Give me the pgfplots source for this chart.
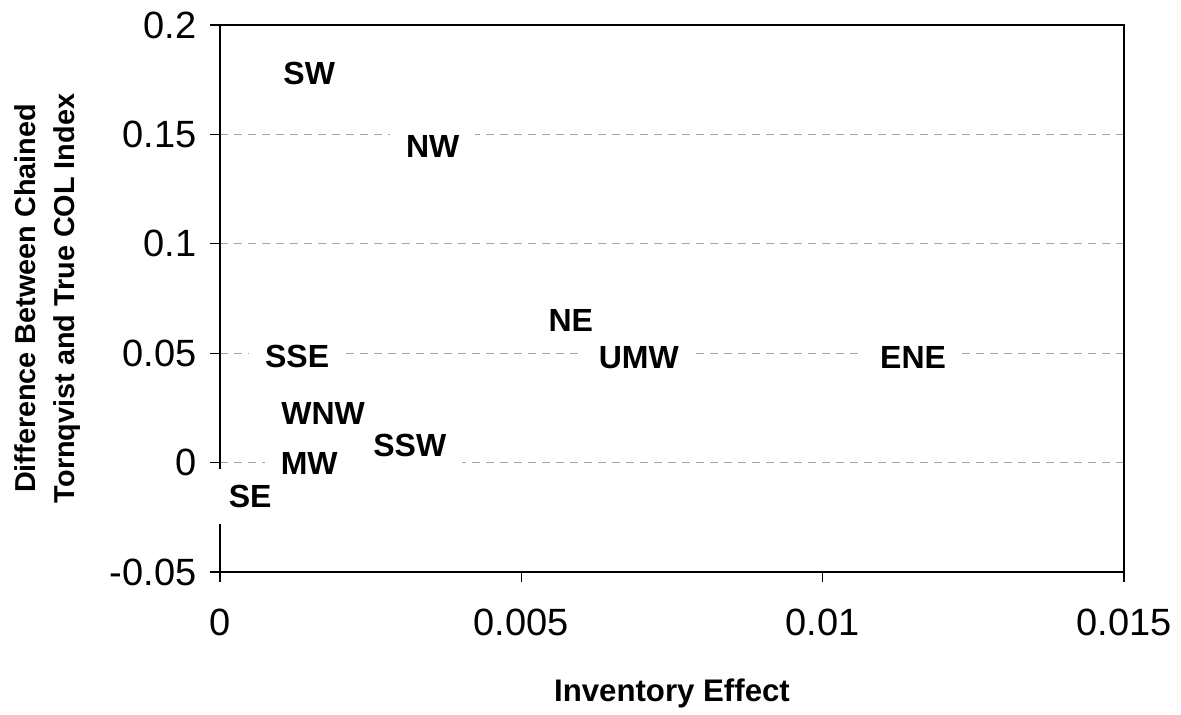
\documentclass[border=0pt]{standalone}
\usepackage{pgfplots}
\pgfplotsset{compat=1.18}
\usepackage{fontspec}
\setmainfont{Liberation Sans}
\pgfplotstableread{
x y lab
0.00148 0.178 SW
0.00353 0.1444 NW
0.00582 0.0649 NE
0.00695 0.048 UMW
0.0115 0.048 ENE
0.00128 0.0484 SSE
0.00171 0.0224 WNW
0.00315 0.0078 SSW
0.00148 -0.0005 MW
0.00050 -0.0155 SE
}\regions
\begin{document}
\begin{tikzpicture}
\begin{axis}[
  scale only axis,
  width=452pt, height=273.5pt,
  xmin=0, xmax=0.015, ymin=-0.05, ymax=0.2,
  scaled x ticks=false, scaled y ticks=false,
  xtick={0,0.005,0.01,0.015},
  xticklabels={0,0.005,0.01,0.015},
  ytick={-0.05,0,0.05,0.1,0.15,0.2},
  yticklabels={-0.05,0,0.05,0.1,0.15,0.2},
  /pgf/number format/assume math mode=true,
  tick align=outside, tick pos=left,
  major tick length=5pt,
  tick style={black, line width=0.6pt},
  axis line style={black, line width=0.6pt},
  axis on top=false,
  ymajorgrids,
  major grid style={black!35, dash pattern=on 4pt off 3pt, line width=0.5pt},
  ticklabel style={font=\fontsize{19}{22}\selectfont, inner sep=0pt},
  xticklabel style={anchor=center, yshift=-20pt},
  yticklabel style={anchor=east, xshift=-6.5pt},
  xlabel={\textbf{Inventory Effect}},
  ylabel={\textbf{Difference Between Chained}\\\textbf{Tornqvist and True COL Index}},
  xlabel style={font=\fontsize{15.6}{18}\selectfont, at={(axis description cs:0.5,0)}, anchor=center, yshift=-60.5pt},
  ylabel style={font=\fontsize{14.4}{19.5}\selectfont, align=center, at={(axis description cs:-0.1903,0.5)}, anchor=center},
  clip=false,
]
% white label boxes (covering grid and axis lines)
\addplot[only marks, mark=none, point meta=explicit symbolic,
  nodes near coords, nodes near coords align={center},
  every node near coord/.style={font=\fontsize{16}{18}\selectfont\bfseries, fill=white, text opacity=0, inner xsep=8pt, inner ysep=8pt, anchor=center}]
table[meta=lab] {\regions};
% label texts
\addplot[only marks, mark=none, point meta=explicit symbolic,
  nodes near coords, nodes near coords align={center},
  every node near coord/.style={font=\fontsize{16}{18}\selectfont\bfseries, inner xsep=8pt, inner ysep=8pt, anchor=center}]
table[meta=lab] {\regions};
\end{axis}
\path ([xshift=-110pt,yshift=-69pt]current axis.south west) rectangle ([xshift=28.5pt,yshift=12.5pt]current axis.north east);
\end{tikzpicture}
\end{document}
